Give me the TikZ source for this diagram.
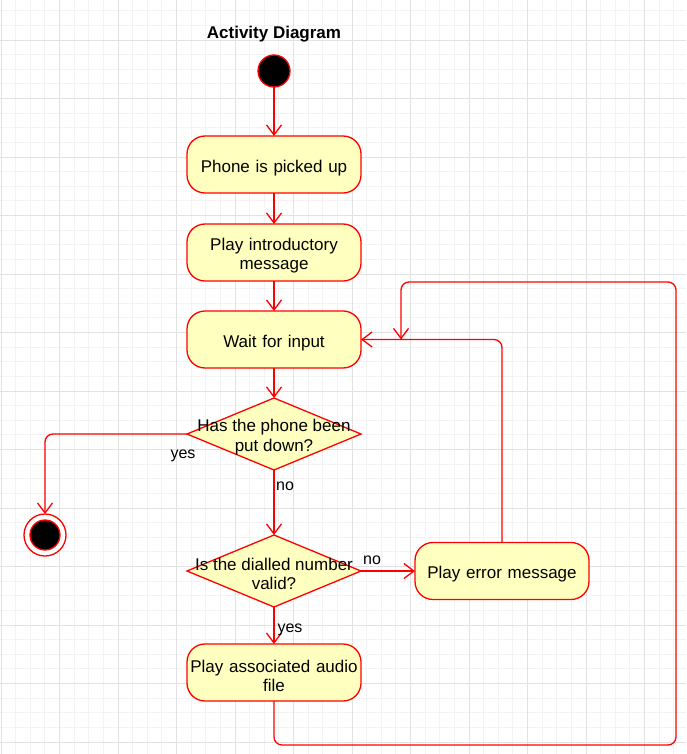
\documentclass[tikz,border=0pt]{standalone}
\usepackage{fontspec}
\setmainfont{Liberation Sans}
\usetikzlibrary{positioning,shapes.geometric,arrows.meta}
\definecolor{actred}{RGB}{255,0,0}
\definecolor{actfill}{RGB}{255,255,192}
\definecolor{gridminor}{RGB}{243,243,243}
\definecolor{gridmajor}{RGB}{226,226,226}
\hyphenpenalty=10000
\exhyphenpenalty=10000

\begin{document}
\begin{tikzpicture}[
  x=1pt, y=1pt,
  font=\fontsize{17pt}{19.5pt}\selectfont,
  act/.style={draw=actred, fill=actfill, line width=1.3pt, rounded corners=18pt, text width=174pt, inner xsep=0pt, inner ysep=2pt, align=center, minimum height=57pt, outer sep=0pt, execute at begin node={\rule{0pt}{18.8pt}}},
  dec/.style={diamond, draw=actred, fill=actfill, line width=1.3pt, minimum width=174pt, minimum height=72pt, inner sep=0pt, outer sep=0pt},
  dtext/.style={align=center, inner sep=0pt, yshift=-3pt},
  startdot/.style={circle, draw=actred, fill=black, line width=1.3pt, minimum size=32pt, inner sep=0pt, outer sep=0pt},
  enddot/.style={circle, draw=actred, fill=white, line width=1.3pt, minimum size=42pt, inner sep=0pt, outer sep=0pt},
  endcore/.style={circle, draw=actred, fill=black, line width=1.3pt, minimum size=30pt, inner sep=0pt},
  flow/.style={draw=actred, line width=1.3pt, -{Straight Barb[length=10pt, width=15pt]}},
  lbl/.style={font=\fontsize{16pt}{19pt}\selectfont, inner sep=0pt},
]

% Canvas and grid
\useasboundingbox (0,0) rectangle (686,-754);
\fill[white] (0,0) rectangle (686,-754);
\begin{scope}[shift={(1,-40)}]
  \draw[gridminor, line width=0.8pt, step=14.625pt] (-1,40) grid (685,-714);
  \draw[gridmajor, line width=0.8pt, step=58.5pt] (-1,40) grid (685,-714);
\end{scope}

% Title
\node[font=\fontsize{17pt}{20pt}\selectfont\bfseries] (title) at (274,-34) {Activity Diagram};

% Main flow
\node[startdot] (start) at (274,-71) {};
\node[act, below=49pt of start] (pick)  {Phone is picked up};
\node[act, below=31pt of pick]  (intro) {Play introductory\\message};
\node[act, below=30pt of intro] (wait)  {Wait for input};

% Decisions
\node[dec, below=30pt of wait, label={[dtext]center:Has the phone been\\put down?}] (d1) {};
\node[dec, below=65pt of d1, label={[dtext]center:Is the dialled number\\valid?}] (d2) {};

% Outcomes
\node[act, right=54pt of d2] (err)   {Play error message};
\node[act, below=37pt of d2] (audio) {Play associated audio\\file};
\node[enddot] (end) at (45,-535) {};
\node[endcore] (endc) at (end) {};

% Arrows
\draw[flow] (start) -- (pick);
\draw[flow] (pick) -- (intro);
\draw[flow] (intro) -- (wait);
\draw[flow] (wait) -- (d1.north);
\draw[flow, rounded corners=8pt] (d1.west) -| node[lbl, pos=0, xshift=-4pt, yshift=-22pt]{yes} (end.north);
\draw[flow] (d1.south) -- node[lbl, pos=0, xshift=11pt, yshift=-16pt]{no} (d2.north);
\draw[flow] (d2.east) -- node[lbl, pos=0, xshift=11pt, yshift=11pt]{no} (err.west);
\draw[flow] (d2.south) -- node[lbl, pos=0, xshift=16pt, yshift=-23pt]{yes} (audio.north);
\draw[flow, rounded corners=8pt] (err.north) |- (wait.east);

% Loop back
\coordinate (loopA) at (676,-745);
\coordinate (loopB) at (401,-282);
\draw[flow, rounded corners=8pt] (audio.south) |- (loopA) |- (loopB) -- (loopB |- wait.east);

\end{tikzpicture}
\end{document}
